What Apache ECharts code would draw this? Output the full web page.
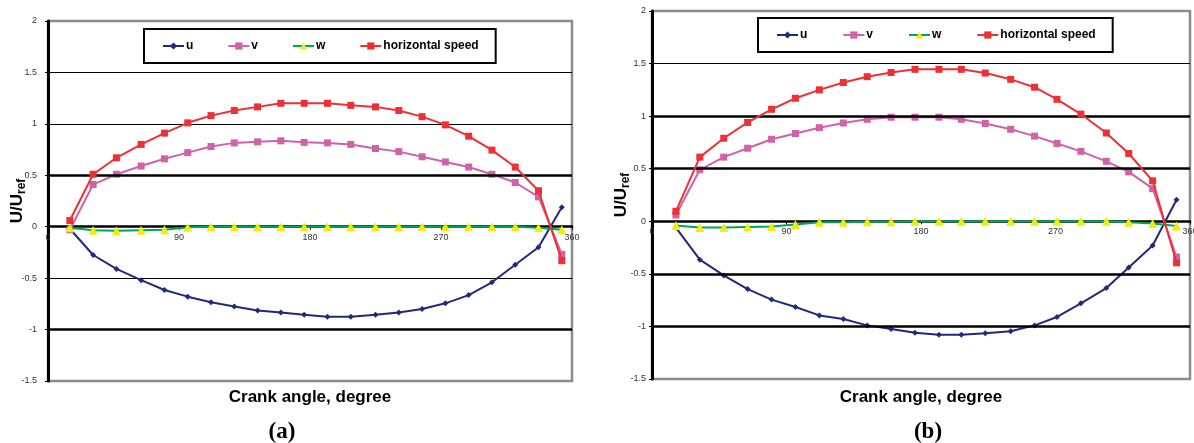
<!DOCTYPE html>
<html>
<head>
<meta charset="utf-8">
<script src="https://cdn.jsdelivr.net/npm/echarts@6/dist/echarts.min.js"></script>
<style>html,body{margin:0;padding:0;background:#fff;}#c{width:1194px;height:443px;}</style>
</head>
<body>
<div id="c"></div>
<script>
// ---- data ----
var seriesNames = ['u', 'v', 'w', 'horizontal speed'];
var xTicks = [0, 90, 180, 270, 360];
var yTicks = [-1.5, -1, -0.5, 0, 0.5, 1, 1.5, 2];

// chart (a)
var anglesA = [15, 31, 47, 64, 80, 96, 112, 128, 144, 160, 176, 192, 208, 225, 241, 257, 273, 289, 305, 321, 337, 353];
var uA = [-0.02, -0.275, -0.41, -0.52, -0.615, -0.68, -0.735, -0.775, -0.815, -0.835, -0.855, -0.875, -0.875, -0.855, -0.835, -0.80, -0.745, -0.665, -0.54, -0.37, -0.20, 0.19];
var vA = [-0.03, 0.41, 0.51, 0.59, 0.66, 0.72, 0.78, 0.815, 0.825, 0.835, 0.82, 0.815, 0.80, 0.76, 0.73, 0.68, 0.63, 0.58, 0.51, 0.43, 0.29, -0.27];
var wA = [-0.01, -0.035, -0.04, -0.035, -0.03, -0.005, 0, 0, 0, 0, 0, 0, 0, 0, 0, 0, 0, 0, 0, 0, -0.01, -0.03];
var hA = [0.06, 0.51, 0.67, 0.80, 0.91, 1.01, 1.08, 1.13, 1.165, 1.20, 1.20, 1.20, 1.18, 1.165, 1.13, 1.07, 0.99, 0.88, 0.745, 0.58, 0.35, -0.33];

// chart (b)
var anglesB = [16, 32, 48, 64, 80, 96, 112, 128, 144, 160, 176, 192, 207, 223, 240, 256, 271, 287, 304, 319, 335, 351];
var uB = [-0.06, -0.365, -0.515, -0.645, -0.745, -0.815, -0.895, -0.93, -0.99, -1.025, -1.06, -1.08, -1.08, -1.065, -1.045, -0.99, -0.91, -0.78, -0.635, -0.44, -0.23, 0.205];
var vB = [0.06, 0.49, 0.61, 0.695, 0.78, 0.835, 0.89, 0.935, 0.97, 0.99, 0.99, 0.99, 0.97, 0.93, 0.875, 0.81, 0.74, 0.665, 0.57, 0.47, 0.31, -0.34];
var wB = [-0.04, -0.06, -0.06, -0.055, -0.05, -0.03, -0.01, -0.01, -0.005, -0.005, 0, 0, 0, 0, 0, 0, 0, 0, 0, -0.01, -0.02, -0.045];
var hB = [0.095, 0.61, 0.79, 0.94, 1.065, 1.17, 1.25, 1.32, 1.375, 1.415, 1.445, 1.445, 1.445, 1.41, 1.35, 1.275, 1.16, 1.02, 0.84, 0.645, 0.385, -0.395];

var thickA = [0.5, -1];
var thickB = [1, 0.5, -0.5, -1];

// ---- styling ----
var FONT = 'Liberation Sans, Arial, sans-serif';
var colors = { u: '#24287a', v: '#d062aa', w: '#00a651', h: '#ee3034', tri: '#f0ec10' };

function pairs(xs, ys) { return xs.map(function (x, i) { return [x, ys[i]]; }); }

function makeSeries(idx, xs, u, v, w, h, thick) {
  return [
    { name: 'u', type: 'line', xAxisIndex: idx, yAxisIndex: idx, data: pairs(xs, u),
      symbol: 'diamond', symbolSize: 6, lineStyle: { color: colors.u, width: 2 },
      itemStyle: { color: colors.u }, z: 3,
      markLine: { silent: true, symbol: 'none', label: { show: false },
        lineStyle: { color: '#000', width: 2.5, type: 'solid' },
        data: thick.map(function (t) { return { yAxis: t }; }) } },
    { name: 'v', type: 'line', xAxisIndex: idx, yAxisIndex: idx, data: pairs(xs, v),
      symbol: 'rect', symbolSize: 7, lineStyle: { color: colors.v, width: 2 },
      itemStyle: { color: colors.v }, z: 4 },
    { name: 'w', type: 'line', xAxisIndex: idx, yAxisIndex: idx, data: pairs(xs, w),
      symbol: 'triangle', symbolSize: 9, lineStyle: { color: colors.w, width: 2 },
      itemStyle: { color: colors.tri }, z: 5 },
    { name: 'horizontal speed', type: 'line', xAxisIndex: idx, yAxisIndex: idx, data: pairs(xs, h),
      symbol: 'rect', symbolSize: 7, lineStyle: { color: colors.h, width: 2 },
      itemStyle: { color: colors.h }, z: 6 }
  ];
}

function xAxisCfg(idx, off) {
  return { type: 'value', gridIndex: idx, min: xTicks[0], max: xTicks[xTicks.length - 1], interval: 90,
    position: 'bottom', offset: off,
    axisLine: { onZero: false, lineStyle: { color: '#000', width: 2.5 } },
    axisTick: { show: true, length: 3, lineStyle: { color: '#000', width: 1 } },
    axisLabel: { fontSize: 9, color: '#333', fontFamily: FONT, margin: 6, showMinLabel: true, showMaxLabel: true },
    splitLine: { show: false } };
}

function yAxisCfg(idx, gap, lblMargin) {
  return { type: 'value', gridIndex: idx, min: yTicks[0], max: yTicks[yTicks.length - 1], interval: 0.5,
    name: '{a|U/U}{b|ref}', nameLocation: 'middle', nameRotate: 90, nameGap: gap, nameMoveOverlap: false,
    nameTextStyle: { rich: {
      a: { fontSize: 17, fontWeight: 'bold', fontFamily: FONT, color: '#000', lineHeight: 18, verticalAlign: 'top' },
      b: { fontSize: 12, fontWeight: 'bold', fontFamily: FONT, color: '#000', lineHeight: 19, verticalAlign: 'bottom' } } },
    axisLine: { show: true, onZero: false, lineStyle: { color: '#000', width: 3 } },
    axisTick: { show: true, length: 3, lineStyle: { color: '#000' } },
    axisLabel: { fontSize: 9, color: '#333', fontFamily: FONT, margin: lblMargin },
    splitLine: { show: true, showMinLine: false, showMaxLine: false, lineStyle: { color: '#000', width: 1 } } };
}

function legendCfg(left, top, gap) {
  return { left: left, top: top, data: seriesNames, orient: 'horizontal',
    borderColor: '#000', borderWidth: 2, padding: [11, 17, 11, 18], itemGap: gap,
    itemWidth: 21, itemHeight: 9, selectedMode: false,
    textStyle: { fontSize: 12, fontWeight: 'bold', fontFamily: FONT, color: '#000', padding: [0, 0, 0, -3] } };
}

var option = {
  animation: false,
  backgroundColor: '#fff',
  grid: [
    { left: 48, top: 21, width: 524, height: 360, show: true, borderColor: '#8c8c8c', borderWidth: 2.5, backgroundColor: 'transparent', containLabel: false, outerBoundsMode: 'none' },
    { left: 652, top: 11, width: 538, height: 368, show: true, borderColor: '#8c8c8c', borderWidth: 2.5, backgroundColor: 'transparent', containLabel: false, outerBoundsMode: 'none' }
  ],
  xAxis: [xAxisCfg(0, -154.3), xAxisCfg(1, -157.7)],
  yAxis: [yAxisCfg(0, 20, 11), yAxisCfg(1, 20, 6)],
  legend: [legendCfg(144, 29, 34), legendCfg(758, 18, 35)],
  series: makeSeries(0, anglesA, uA, vA, wA, hA, thickA).concat(makeSeries(1, anglesB, uB, vB, wB, hB, thickB)),
  graphic: [
    { type: 'text', x: 310, y: 397, style: { text: 'Crank angle, degree', fontSize: 17, fontWeight: 'bold', fontFamily: FONT, fill: '#000', align: 'center', verticalAlign: 'middle' } },
    { type: 'text', x: 921, y: 397, style: { text: 'Crank angle, degree', fontSize: 17, fontWeight: 'bold', fontFamily: FONT, fill: '#000', align: 'center', verticalAlign: 'middle' } },
    { type: 'text', x: 282, y: 432, style: { text: '(a)', fontSize: 23, fontWeight: 'bold', fontFamily: 'Liberation Serif, Times New Roman, serif', fill: '#000', align: 'center', verticalAlign: 'middle' } },
    { type: 'text', x: 928, y: 432, style: { text: '(b)', fontSize: 23, fontWeight: 'bold', fontFamily: 'Liberation Serif, Times New Roman, serif', fill: '#000', align: 'center', verticalAlign: 'middle' } }
  ]
};

var chart = echarts.init(document.getElementById('c'), null, { renderer: 'canvas' });
chart.setOption(option);
</script>
</body>
</html>
